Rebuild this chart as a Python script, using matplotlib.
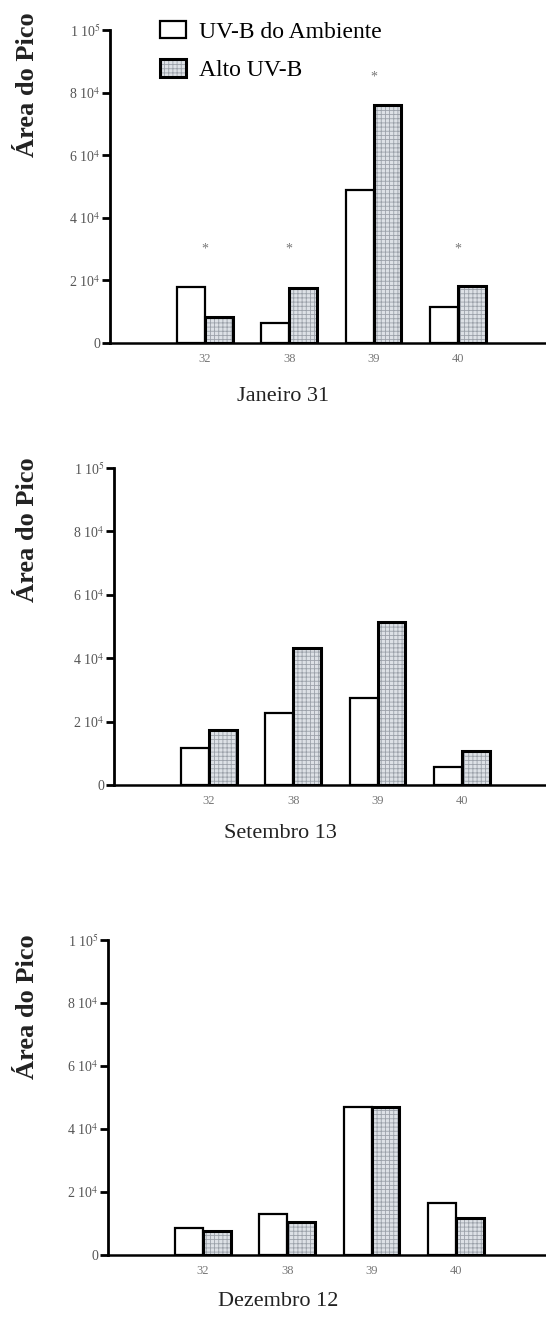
import matplotlib.pyplot as plt
import numpy as np

peaks = ["32", "38", "39", "40"]

jan_ambient = [18000, 6500, 49000, 11500]
jan_high = [8300, 17600, 76000, 18200]
jan_star = [30000, 30000, 85000, 30000]

set_ambient = [11700, 22700, 27400, 5700]
set_high = [17400, 43200, 51400, 10700]

dez_ambient = [8600, 13000, 47000, 16500]
dez_high = [7600, 10500, 47000, 11700]

yticks = [0, 20000, 40000, 60000, 80000, 100000]
ytick_labels = ["0", r"2 10$^4$", r"4 10$^4$", r"6 10$^4$", r"8 10$^4$", r"1 10$^5$"]

plt.rcParams['font.family'] = ['Liberation Serif', 'DejaVu Serif']
plt.rcParams['hatch.linewidth'] = 0.6
plt.rcParams['mathtext.fontset'] = 'stix'

W, H = 546, 1321
fig = plt.figure(figsize=(W / 100, H / 100), dpi=100)

# (axis left px, top px, bottom px, title, title x px, title y px, ylabel y px)
panels = [
    (110, 30, 343, "Janeiro 31", 283, 397, 85, jan_ambient, jan_high),
    (114, 468, 785, "Setembro 13", 280, 833, 530, set_ambient, set_high),
    (108, 940, 1255, "Dezembro 12", 278, 1302, 1007, dez_ambient, dez_high),
]

x = np.arange(1, len(peaks) + 1)
bw = 0.33
spacing = 84.3

for k, (left, top, bottom, title, tx, ty, ly, amb, high) in enumerate(panels):
    ax = fig.add_axes([left / W, 1 - bottom / H, (W - left) / W, (bottom - top) / H])
    h1 = ax.bar(x - bw / 2, amb, bw, facecolor='white', edgecolor='black', linewidth=1.6, zorder=3)
    h2a = ax.bar(x + bw / 2, high, bw, facecolor='#dde1e6', edgecolor='#9ba1a9',
                 hatch='++++', linewidth=0, zorder=3)
    h2b = ax.bar(x + bw / 2, high, bw, facecolor='none', edgecolor='black', linewidth=2.2, zorder=4)

    if k == 0:
        for xi, sy in zip(x, jan_star):
            ax.text(xi, sy, "*", ha='center', va='center', fontsize=10, color='#777777')
        fig.legend([h1, (h2a, h2b)], ["UV-B do Ambiente", "Alto UV-B"],
                   loc='upper left', bbox_to_anchor=(148 / W, 1 - 9 / H),
                   bbox_transform=fig.transFigure, frameon=False, fontsize=17,
                   borderpad=0, handlelength=1.1, handleheight=0.75,
                   handletextpad=0.55, labelspacing=0.7)

    left_lim = 1 - 95 / spacing
    ax.set_xlim(left_lim, left_lim + (W - left) / spacing)
    ax.set_ylim(0, 100000)
    ax.set_yticks(yticks)
    ax.set_yticklabels(ytick_labels, fontsize=10, color='#555555')
    ax.set_xticks(x)
    ax.set_xticklabels(peaks, fontsize=9, color='#777777')
    ax.tick_params(axis='y', length=6, width=2, pad=1, direction='out')
    ax.tick_params(axis='x', length=0, pad=7)
    for s in ['top', 'right']:
        ax.spines[s].set_visible(False)
    ax.spines['left'].set_linewidth(2)
    ax.spines['bottom'].set_linewidth(1.8)

    fig.text(tx / W, 1 - ty / H, title, ha='center', va='center', fontsize=16, color='#222222')
    fig.text(28 / W, 1 - ly / H, "Área do Pico", ha='center', va='center', rotation=90,
             fontsize=19, fontweight='bold', color='#222222')

fig.savefig("out.png", dpi=100)
